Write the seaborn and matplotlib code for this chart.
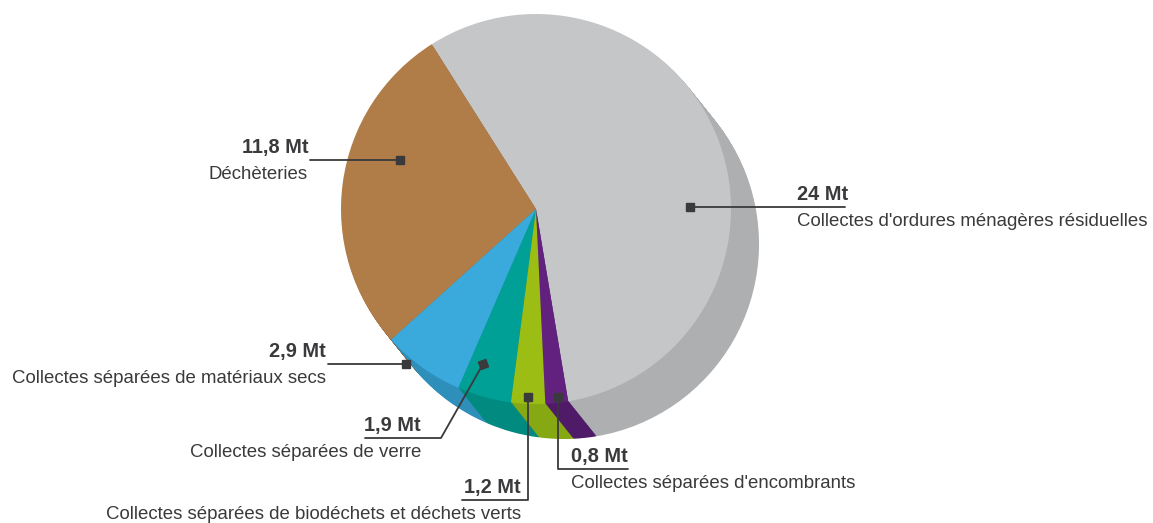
import numpy as np
import matplotlib
matplotlib.use("Agg")
import matplotlib.pyplot as plt
import seaborn as sns

sns.set_theme(style="white")
plt.rcParams['font.family'] = ['Liberation Sans', 'DejaVu Sans']

# Data (Mt)
categories = ["Collectes d'ordures ménagères résiduelles", "Déchèteries",
              "Collectes séparées de matériaux secs", "Collectes séparées de verre",
              "Collectes séparées de biodéchets et déchets verts",
              "Collectes séparées d'encombrants"]
values = [24, 11.8, 2.9, 1.9, 1.2, 0.8]
value_labels = ["24 Mt", "11,8 Mt", "2,9 Mt", "1,9 Mt", "1,2 Mt", "0,8 Mt"]

top_colors = ["#c5c6c8", "#b07d48", "#3aaadc", "#00a096", "#9bbd14", "#62217f"]
side_colors = ["#aeafb1", "#8e6338", "#2f8fbb", "#008a80", "#86a812", "#4f1a68"]

W, H = 1153, 523
fig = plt.figure(figsize=(W / 100, H / 100), dpi=100)
ax = fig.add_axes([0, 0, 1, 1])

cx, cy, r = 536, H - 209, 195
dx, dy = 28, 35
start = -80.5

# extruded side: stack of darker pies from the bottom up
for k in np.linspace(1, 0.03, 40):
    ax.pie(values, colors=side_colors, startangle=start, counterclock=True,
           radius=r, center=(cx + k * dx, cy - k * dy),
           wedgeprops=dict(linewidth=0))

# top face
ax.pie(values, colors=top_colors, startangle=start, counterclock=True,
       radius=r, center=(cx, cy), wedgeprops=dict(linewidth=0))

ax.set_xlim(0, W)
ax.set_ylim(0, H)
ax.set_aspect('equal')
ax.axis('off')

txt = "#3a3a3c"
fs = 13.4

def y(v):
    return H - v

def marker(px, py, rot=0):
    ax.plot(px, y(py), marker=(4, 0, 45 + rot), markersize=8, color=txt, zorder=10)

def lbl(px, py, value, name, ha):
    ax.text(px, y(py - 3), value, ha=ha, va='bottom', fontsize=fs + 1, fontweight='bold', color=txt)
    ax.text(px, y(py + 6), name, ha=ha, va='top', fontsize=fs, color=txt)

# 24 Mt
marker(690, 207)
ax.plot([690, 845], [y(207), y(207)], color=txt, lw=1.3)
lbl(797, 207, value_labels[0], categories[0], 'left')

# 11,8 Mt
marker(400, 160)
ax.plot([400, 310], [y(160), y(160)], color=txt, lw=1.3)
lbl(308, 160, value_labels[1], categories[1], 'right')

# 2,9 Mt
marker(406, 364)
ax.plot([406, 328], [y(364), y(364)], color=txt, lw=1.3)
lbl(326, 364, value_labels[2], categories[2], 'right')

# 1,9 Mt
marker(483, 364, rot=20)
ax.plot([483, 441, 365], [y(364), y(438), y(438)], color=txt, lw=1.3)
lbl(421, 438, value_labels[3], categories[3], 'right')

# 1,2 Mt
marker(528, 397)
ax.plot([528, 528, 462], [y(397), y(500), y(500)], color=txt, lw=1.3)
lbl(521, 500, value_labels[4], categories[4], 'right')

# 0,8 Mt
marker(558, 397)
ax.plot([558, 558, 628], [y(397), y(469), y(469)], color=txt, lw=1.3)
lbl(571, 469, value_labels[5], categories[5], 'left')

fig.savefig("out.png", dpi=100)
